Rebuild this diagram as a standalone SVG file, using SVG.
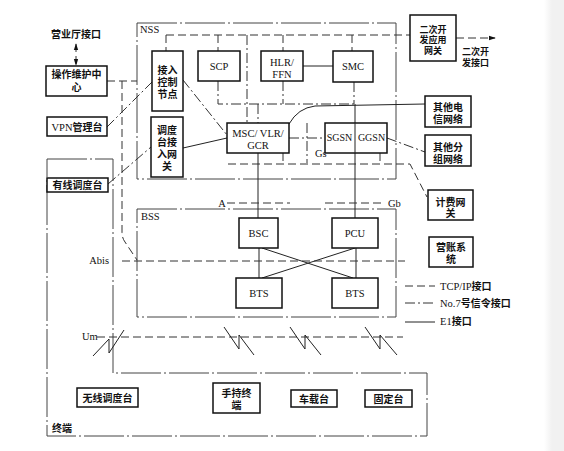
<svg xmlns="http://www.w3.org/2000/svg" width="564" height="451" viewBox="0 0 564 451">
<defs>
<style>
text{font-family:"Liberation Serif","Noto Sans CJK SC",serif;font-size:10.5px;fill:#111}
.c{font-family:"Liberation Sans","Noto Sans CJK SC",sans-serif;font-size:10px;font-weight:bold}
.s{font-size:9px}
.m{text-anchor:middle}
.box{fill:#fff;stroke:#111;stroke-width:1.5}
.sol{fill:none;stroke:#222;stroke-width:1}
.dsh{fill:none;stroke:#333;stroke-width:1;stroke-dasharray:8,4}
.dd{fill:none;stroke:#333;stroke-width:1;stroke-dasharray:10,3,2,3}
.frame{fill:none;stroke:#444;stroke-width:1;stroke-dasharray:40,3,2,3}
</style>
<linearGradient id="edge" x1="0" y1="0" x2="1" y2="0"><stop offset="0" stop-color="#fff"/><stop offset="0.4" stop-color="#f1f1f1"/><stop offset="1" stop-color="#f1f1f1"/></linearGradient>
<marker id="ah" viewBox="0 0 8 8" refX="7" refY="4" markerWidth="7" markerHeight="7" orient="auto-start-reverse"><path d="M0,1.5 L8,4 L0,6.5 Z" fill="#111"/></marker>
</defs>
<rect width="564" height="451" fill="#fff"/>
<rect x="544" y="0" width="20" height="451" fill="url(#edge)"/>

<g id="frames">
<rect x="137" y="23" width="259" height="156" class="frame"/>
<rect x="137" y="209" width="259" height="108" class="frame"/>
<path d="M47,159 L113,159 L113,373 L427,373 L427,436 L47,436 Z" class="frame"/>
<text x="140" y="33">NSS</text>
<text x="141" y="220">BSS</text>
<text x="52" y="432" class="c">终端</text>
</g>

<g id="connectors">
<path d="M166,35 L410,35" class="dsh"/>
<path d="M166,35 L166,51 M218,35 L218,51 M283,35 L283,51 M352,35 L352,51" class="dsh"/>
<path d="M247,35 L247,123" class="dd"/>
<path d="M218,81 L218,104 L355,104 M283,81 L283,104 M354,82 L354,104" class="dd"/>
<path d="M258,104 L258,123" class="dd"/>
<path d="M355,104 L355,123" class="sol"/>
<path d="M303,66 L333,66" class="sol"/>
<path d="M183,80 L227,135" class="dd"/>
<path d="M183,148 L227,138" class="sol"/>
<path d="M289,124 Q298,108 315,106 L425,104" class="sol"/>
<path d="M289,138 L325,138" class="dd"/>
<path d="M307,123 L307,163" class="dd"/>
<path d="M387,138 L425,152" class="dd"/>
<path d="M228,164 L410,164 L427,197" class="dsh"/>
<path d="M283,153 L283,164 M380,153 L380,164" class="dsh"/>
<path d="M258,153 L258,218" class="sol"/>
<path d="M355,153 L355,218" class="sol"/>
<path d="M227,203 L290,203 M325,203 L385,203" class="dsh"/>
<path d="M76,44 L76,65" class="dsh" marker-start="url(#ah)" marker-end="url(#ah)"/>
<path d="M107,81 L137,81" class="dsh"/>
<path d="M122,81 L122,232 Q122,238 125,242 L137,260" class="dsh"/>
<path d="M107,127 L152,82" class="dd"/>
<path d="M108,184 L151,147" class="dd"/>
<path d="M456,38 L495,38" class="dsh" marker-end="url(#ah)"/>
<path d="M259,248 L259,278 M356,248 L356,278" class="sol"/>
<path d="M262,248 L353,278 M355,248 L262,278" class="sol"/>
<path d="M122,261 L405,261" class="dsh"/>
<path d="M97,337 L403,337" class="dsh"/>
<path d="M93,356 L109,339 L109,353 L124,330" class="sol"/>
<path d="M224,327 L239,349 L239,335 L254,355" class="sol"/>
<path d="M290,327 L305,349 L305,335 L321,355" class="sol"/>
<path d="M365,327 L380,349 L380,335 L397,355" class="sol"/>
<path d="M405,286 L435,286" class="dsh"/>
<path d="M405,303 L435,303" class="dd"/>
<path d="M405,322 L435,322" class="sol"/>
</g>

<g id="labels">
<text x="315" y="157">Gs</text>
<text x="222" y="207" class="m">A</text>
<text x="388" y="207">Gb</text>
<text x="109" y="264" text-anchor="end">Abis</text>
<text x="82" y="340">Um</text>
<text x="76" y="38" class="c m">营业厅接口</text>
<text x="462" y="55" class="c s">二次开<tspan x="462" dy="11">发接口</tspan></text>
<text x="440" y="290">TCP/IP<tspan class="c">接口</tspan></text>
<text x="440" y="307">No.7<tspan class="c">号信令接口</tspan></text>
<text x="440" y="325">E1<tspan class="c">接口</tspan></text>
</g>

<g id="n-oam"><rect x="46" y="66" width="61" height="30" class="box"/><text x="76.5" y="78" class="c m">操作维护中<tspan x="76.5" dy="13">心</tspan></text></g>
<g id="n-vpn"><rect x="47" y="117" width="60" height="19" class="box"/><text x="77" y="131" class="m">VPN<tspan class="c">管理台</tspan></text></g>
<g id="n-wired"><rect x="47" y="178" width="61" height="14" class="box"/><text x="77.5" y="189" class="c m">有线调度台</text></g>
<g id="n-acn"><rect x="152" y="51" width="31" height="60" class="box"/><text x="167.5" y="74" class="c m">接入<tspan x="167.5" dy="12">控制</tspan><tspan x="167.5" dy="12">节点</tspan></text></g>
<g id="n-dgw"><rect x="151" y="117" width="32" height="60" class="box"/><text x="167" y="134" class="c m">调度<tspan x="167" dy="12">台接</tspan><tspan x="167" dy="12">入网</tspan><tspan x="167" dy="12">关</tspan></text></g>
<g id="n-scp"><rect x="198" y="51" width="42" height="30" class="box"/><text x="219" y="70" class="m">SCP</text></g>
<g id="n-hlr"><rect x="261" y="51" width="42" height="30" class="box"/><text x="282" y="65.5" class="m">HLR/<tspan x="282" dy="12">FFN</tspan></text></g>
<g id="n-smc"><rect x="333" y="51" width="40" height="31" class="box"/><text x="353" y="70" class="m">SMC</text></g>
<g id="n-msc"><rect x="227" y="123" width="62" height="30" class="box"/><text x="258" y="137" class="m">MSC/ VLR/<tspan x="258" dy="12">GCR</tspan></text></g>
<g id="n-sgsn"><rect x="325" y="123" width="62" height="30" class="box"/><path d="M355,123 L355,153" class="sol"/><text x="339.5" y="141" class="m" style="font-size:10px">SGSN</text><text x="371.5" y="141" class="m" style="font-size:10px">GGSN</text></g>
<g id="n-dev"><rect x="410" y="15" width="46" height="46" class="box"/><text x="433" y="32.5" class="c s m">二次开<tspan x="433" dy="10.5">发应用</tspan><tspan x="433" dy="10.5">网关</tspan></text></g>
<g id="n-tel"><rect x="425" y="96" width="46" height="31" class="box"/><text x="448" y="111" class="c m">其他电<tspan x="448" dy="12">信网络</tspan></text></g>
<g id="n-pkt"><rect x="425" y="135" width="46" height="31" class="box"/><text x="448" y="151" class="c m">其他分<tspan x="448" dy="12">组网络</tspan></text></g>
<g id="n-bill"><rect x="428" y="190" width="45" height="30" class="box"/><text x="450.5" y="205.5" class="c m">计费网<tspan x="450.5" dy="11.5">关</tspan></text></g>
<g id="n-acct"><rect x="429" y="237" width="44" height="30" class="box"/><text x="451" y="251" class="c m">营账系<tspan x="451" dy="12">统</tspan></text></g>
<g id="n-bsc"><rect x="239" y="218" width="39" height="30" class="box"/><text x="258.5" y="237" class="m">BSC</text></g>
<g id="n-pcu"><rect x="332" y="218" width="46" height="30" class="box"/><text x="355" y="237" class="m">PCU</text></g>
<g id="n-bts1"><rect x="236" y="278" width="46" height="30" class="box"/><text x="259" y="297" class="m">BTS</text></g>
<g id="n-bts2"><rect x="332" y="278" width="46" height="30" class="box"/><text x="355" y="297" class="m">BTS</text></g>
<g id="n-wless"><rect x="77" y="388" width="61" height="19" class="box"/><text x="107.5" y="402" class="c m">无线调度台</text></g>
<g id="n-hand"><rect x="213" y="383" width="47" height="30" class="box"/><text x="236.5" y="397" class="c m">手持终<tspan x="236.5" dy="12">端</tspan></text></g>
<g id="n-car"><rect x="291" y="390" width="46" height="17" class="box"/><text x="314" y="403" class="c m">车载台</text></g>
<g id="n-fixed"><rect x="365" y="390" width="47" height="17" class="box"/><text x="388.5" y="403" class="c m">固定台</text></g>
</svg>
